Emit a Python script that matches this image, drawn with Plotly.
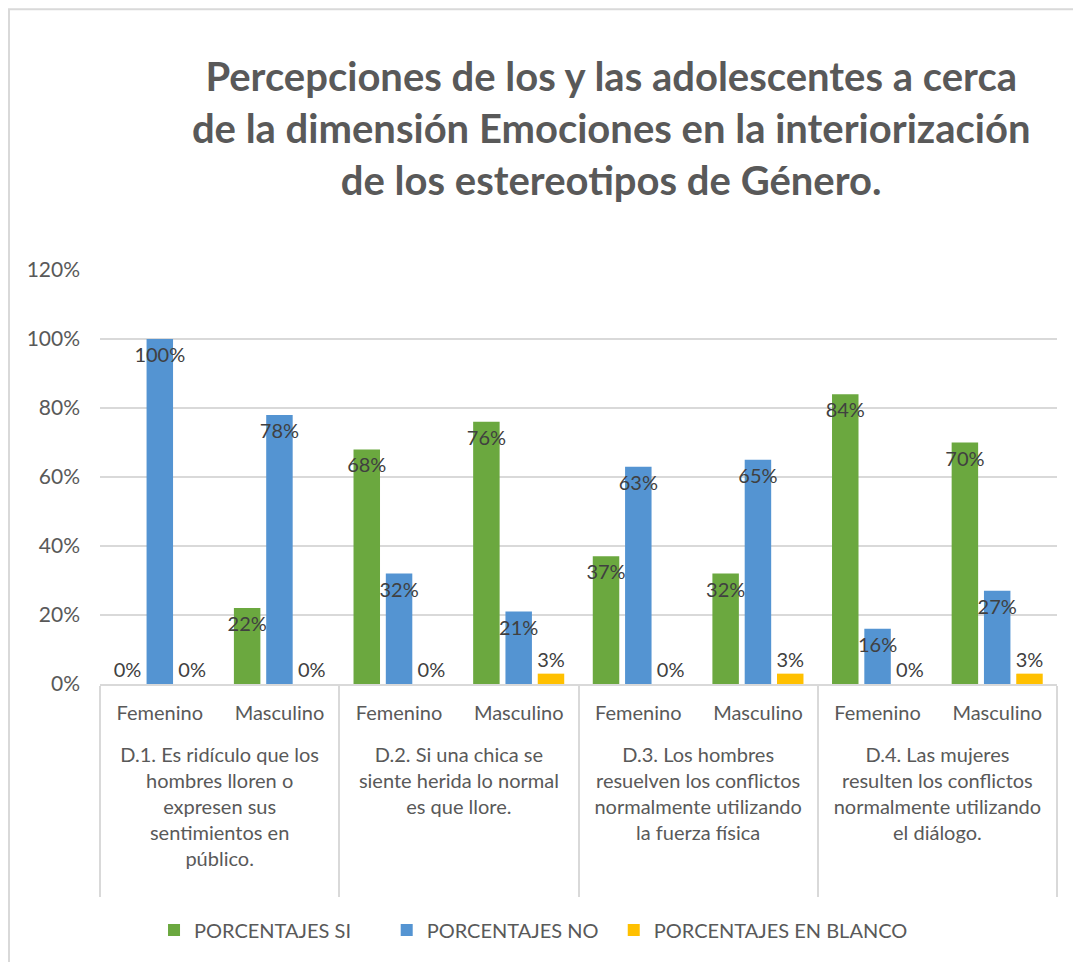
import plotly.graph_objects as go

questions = [
    "D.1. Es ridículo que los<br>hombres lloren o<br>expresen sus<br>sentimientos en<br>público.<br>\u00a0",
    "D.2. Si una chica se<br>siente herida lo normal<br>es que llore.",
    "D.3. Los hombres<br>resuelven los conflictos<br>normalmente utilizando<br>la fuerza física",
    "D.4. Las mujeres<br>resulten los conflictos<br>normalmente utilizando<br>el diálogo.",
]
sexes = ["Femenino", "Masculino"]

si = [0.00, 0.22, 0.68, 0.76, 0.37, 0.32, 0.84, 0.70]
no = [1.00, 0.78, 0.32, 0.21, 0.63, 0.65, 0.16, 0.27]
blanco = [0.00, 0.00, 0.00, 0.03, 0.00, 0.03, 0.00, 0.03]

series_names = ["PORCENTAJES SI", "PORCENTAJES NO", "PORCENTAJES EN BLANCO"]
legend_pad = [6, 2, 0]
colors = ["#6BA83F", "#5494D2", "#FFC000"]

outer = ["<br>" + q for q in questions for _ in sexes]
inner = [s for _ in questions for s in sexes]

FONT = "Lato"
GRAY = "#595959"

fig = go.Figure()
for name, pad, vals, col in zip(series_names, legend_pad, [si, no, blanco], colors):
    fig.add_trace(go.Bar(
        x=[outer, inner], y=vals, name=name + "\u00a0" * pad,
        marker=dict(color=col, line=dict(width=0)),
        texttemplate="%{y:.0%}",
        textposition=["inside" if v >= 0.1 else "outside" for v in vals],
        insidetextanchor="end",
        textangle=0,
        constraintext="none",
        cliponaxis=False,
        textfont=dict(family=FONT, size=20, color="#404040"),
    ))

fig.update_layout(
    width=1081, height=962,
    paper_bgcolor="white", plot_bgcolor="white",
    margin=dict(l=92, r=32, t=262, b=286),
    barmode="group", bargap=0.19, bargroupgap=0.18,
    font=dict(family=FONT, color=GRAY),
    title=dict(
        text="<b>Percepciones de los y las adolescentes a cerca<br>de la dimensión Emociones en la interiorización<br>de los estereotipos de Género.</b>",
        x=0.558, xanchor="center", y=0.9135, yanchor="middle",
        font=dict(family=FONT, size=40, color=GRAY),
    ),
    legend=dict(
        orientation="h", x=0.453, xanchor="center", y=-0.594, yanchor="middle",
        font=dict(family=FONT, size=20, color=GRAY),
        traceorder="normal",
    ),
    yaxis=dict(
        range=[0, 1.2], dtick=0.2, tickformat=".0%",
        showgrid=True, gridcolor="#D9D9D9", gridwidth=1.5,
        zeroline=False, showline=False,
        tickfont=dict(family=FONT, size=21, color=GRAY),
        ticks="", ticklen=0, ticklabelstandoff=19,
    ),
    xaxis=dict(
        type="multicategory",
        showline=True, linecolor="#D9D9D9", linewidth=1.5,
        showdividers=True, dividercolor="#D9D9D9", dividerwidth=1.5,
        tickfont=dict(family=FONT, size=20, color=GRAY),
        ticks="", ticklabelstandoff=10,
    ),
    shapes=[dict(type="rect", xref="paper", yref="paper",
                 x0=-0.0951, x1=1.1, y0=-0.75, y1=1.630,
                 line=dict(color="#D9D9D9", width=2), layer="below")],
)

fig.write_html("out.html")
